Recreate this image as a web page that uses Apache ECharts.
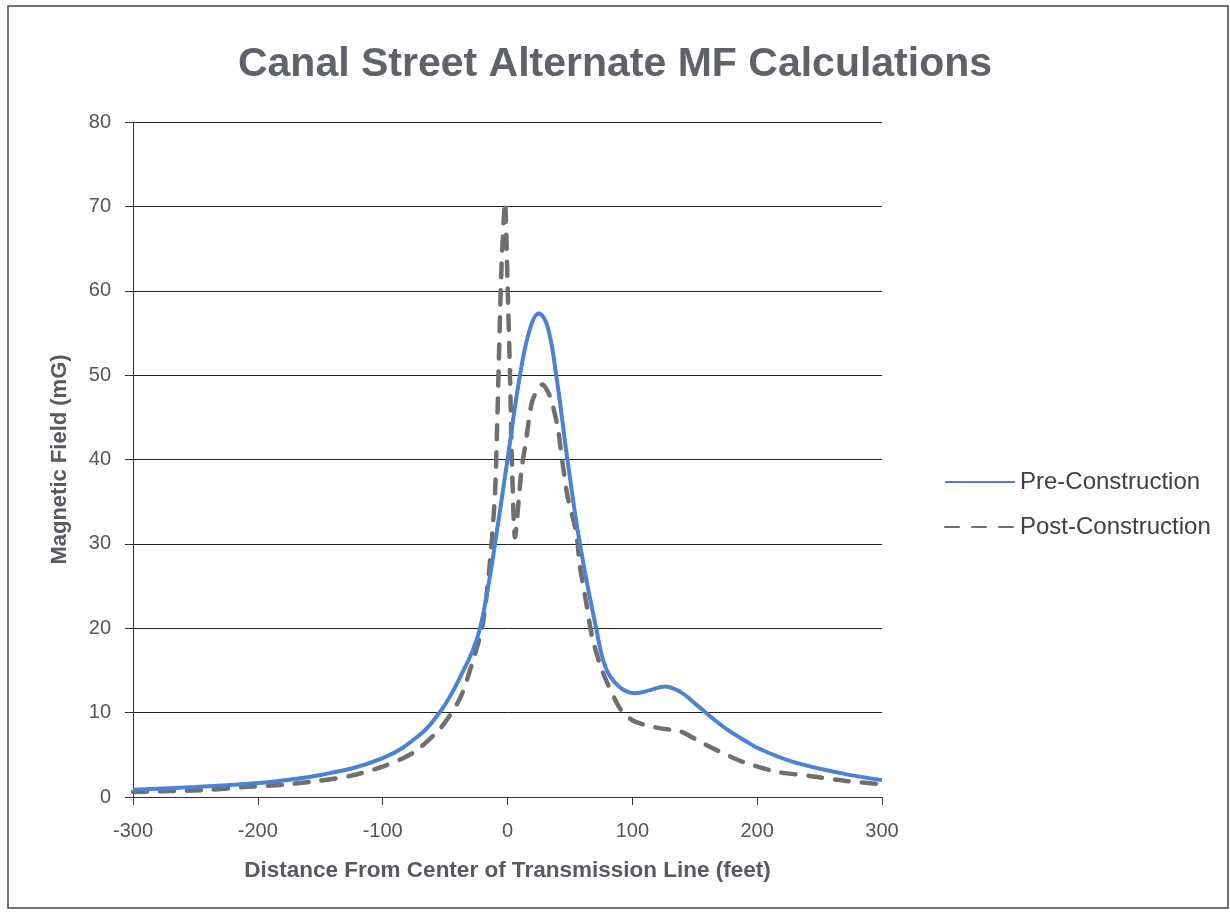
<!DOCTYPE html>
<html>
<head>
<meta charset="utf-8">
<script src="https://cdn.jsdelivr.net/npm/echarts@6/dist/echarts.min.js"></script>
<style>
  html, body { margin: 0; padding: 0; background: #fff; }
  #chart { width: 1230px; height: 918px; }
</style>
</head>
<body>
<div id="chart"></div>
<script>
// distances (feet) and field values (mG)
const preX = [-300, -250, -200, -150, -100, -70, -54, -45, -36, -28, -22, -16, -10, 0, 10, 18, 25, 32, 39, 48, 58, 71, 79, 90, 102, 115, 126, 139, 150, 162, 175, 190, 202, 228, 268, 300];
const preY = [0.86, 1.2, 1.65, 2.6, 4.6, 7.4, 10.1, 12.2, 14.8, 17.3, 20, 24.5, 30, 40, 50, 55.5, 57.3, 55.8, 50, 40, 30, 20, 15.2, 13.0, 12.3, 12.7, 13.1, 12.4, 11.1, 9.6, 8.1, 6.7, 5.7, 4.2, 2.8, 2.0];

const postX = [-300, -270, -238, -209, -180, -152, -126, -100, -76, -54, -38, -28, -20, -14, -10, -8, -5, -2, 0, 2, 3.5, 6, 11, 15, 20, 28, 34, 40, 44, 48, 55, 58, 63, 68, 76, 87, 92, 100, 111, 124, 138, 150, 164, 188, 215, 242, 271, 300];
const postY = [0.6, 0.7, 0.86, 1.2, 1.45, 1.9, 2.5, 3.6, 5.2, 8.1, 11.7, 16, 20.3, 27.9, 36, 45.6, 62, 70.5, 61, 50, 40, 30.8, 38.5, 42.4, 47, 48.9, 47.5, 44, 39.7, 35.7, 31.4, 27.4, 23.1, 18.8, 14.9, 11.3, 10.1, 9.1, 8.5, 8.1, 7.8, 6.9, 5.8, 4.2, 3.0, 2.5, 1.9, 1.5];

const xTicks = [-300, -200, -100, 0, 100, 200, 300];
const yTicks = [0, 10, 20, 30, 40, 50, 60, 70, 80];

const chart = echarts.init(document.getElementById('chart'));

chart.setOption({
  backgroundColor: '#fff',
  animation: false,
  title: {
    text: 'Canal Street Alternate MF Calculations',
    left: 'center',
    top: 39,
    textStyle: {
      fontFamily: 'Liberation Sans',
      fontSize: 41,
      fontWeight: 'bold',
      color: '#5f6269'
    }
  },
  graphic: [{
    type: 'rect',
    shape: { x: 8, y: 6, width: 1220, height: 902 },
    style: { fill: 'none', stroke: '#444', lineWidth: 1.5 },
    silent: true
  }],
  legend: {
    orient: 'vertical',
    left: 939,
    top: 465,
    itemWidth: 70,
    itemHeight: 6,
    itemGap: 21,
    itemStyle: { opacity: 0 },
    textStyle: { fontFamily: 'Liberation Sans', fontSize: 24, color: '#404040' },
    data: ['Pre-Construction', 'Post-Construction']
  },
  grid: { left: 133, right: 348, top: 122, bottom: 121 },
  xAxis: {
    type: 'value',
    min: xTicks[0],
    max: xTicks[xTicks.length - 1],
    interval: 100,
    name: 'Distance From Center of Transmission Line (feet)',
    nameLocation: 'middle',
    nameGap: 62,
    nameTextStyle: { fontFamily: 'Liberation Sans', fontSize: 22.5, fontWeight: 'bold', color: '#575a62' },
    axisLine: { onZero: false, lineStyle: { color: '#333', width: 1 } },
    axisTick: { show: true, length: 8, inside: false, lineStyle: { color: '#333' } },
    axisLabel: { margin: 24, fontFamily: 'Liberation Sans', fontSize: 20, color: '#555' },
    splitLine: { show: false }
  },
  yAxis: {
    type: 'value',
    min: yTicks[0],
    max: yTicks[yTicks.length - 1],
    interval: 10,
    name: 'Magnetic Field (mG)',
    nameLocation: 'middle',
    nameGap: 62,
    nameTextStyle: { fontFamily: 'Liberation Sans', fontSize: 22, fontWeight: 'bold', color: '#575a62' },
    axisLine: { show: true, onZero: false, lineStyle: { color: '#333', width: 1 } },
    axisTick: { show: true, length: 8, lineStyle: { color: '#333' } },
    axisLabel: { margin: 22, fontFamily: 'Liberation Sans', fontSize: 20, color: '#555' },
    splitLine: { show: true, lineStyle: { color: '#222', width: 1 } }
  },
  series: [{
    name: 'Pre-Construction',
    type: 'line',
    data: preX.map((x, i) => [x, preY[i]]),
    smooth: 0.4,
    showSymbol: false,
    symbol: 'none',
    lineStyle: { color: '#4a83d6', width: 4 },
    itemStyle: { color: '#4a83d6' },
    z: 3
  }, {
    name: 'Post-Construction',
    type: 'line',
    data: postX.map((x, i) => [x, postY[i]]),
    smooth: 0.25,
    showSymbol: false,
    symbol: 'none',
    lineStyle: { color: '#6d706e', width: 4.5, type: [14, 13], cap: 'round' },
    itemStyle: { color: '#6d706e' },
    z: 2
  }]
});
</script>
</body>
</html>
